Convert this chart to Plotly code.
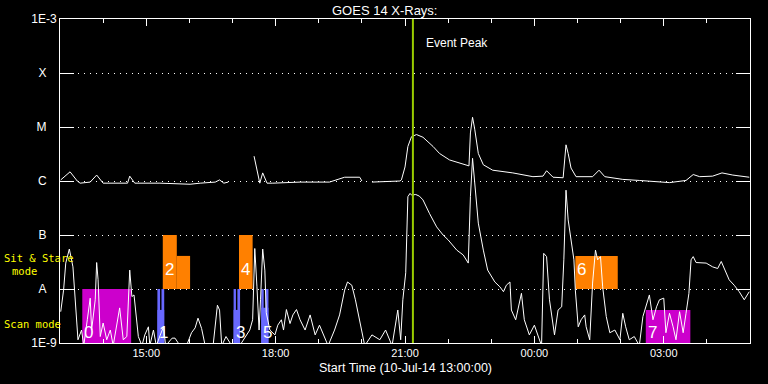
import numpy as np
import pandas as pd
import plotly.graph_objects as go

START = pd.Timestamp("2014-07-10 13:00")
END = pd.Timestamp("2014-07-11 05:00")
EVENT_PEAK = pd.Timestamp("2014-07-10 21:11")

# GOES long channel (1-8 A): minutes after start, log10 flux (None = data gap)
long_min = [1, 14, 24, 28, 42, 51, 60, 94, 97, 104,
            139, 181, 195, 216, 222, 228, 234, 250, 270, 278,
            282, 288, 296, 334, 375, 396, 417, 420, 427, 434,
            473, 475, 480, 484, 489, 496, 505, 519, 528, 542,
            556, 569, 571, 574, 577, 582, 589, 602, 630, 658,
            672, 677, 686, 700, 704, 707, 711, 718, 741, 750,
            758, 783, 806, 848, 871, 881, 890, 908, 921, 936,
            959]
long_log10 = [-5.98, -5.83, -6.00, -6.04, -6.02, -5.89, -6.04, -6.04, -5.91, -6.04,
              -6.04, -6.06, -6.04, -6.02, -5.98, -6.04, -6.02, None, -5.54, -6.04,
              -5.85, -6.04, -6.04, -6.02, -6.02, -5.93, -5.93, -6.00, None, -6.02,
              -6.00, -5.98, -5.74, -5.36, -5.18, -5.14, -5.19, -5.36, -5.49, -5.61,
              -5.67, -5.72, -5.11, -4.82, -5.04, -5.49, -5.70, -5.80, -5.85, -5.92,
              -5.91, -5.81, -5.93, -5.94, -5.33, -5.49, -5.76, -5.92, -5.92, -5.80,
              -5.92, -5.97, -5.99, -6.03, -5.99, -5.88, -5.92, -5.91, -5.85, -5.89,
              -5.93]

# GOES short channel (0.5-4 A)
short_min = [1, 5, 8, 13, 18, 21, 23, 25, 30, 33,
             38, 42, 44, 46, 49, 51, 53, 56, 60, 65,
             70, 74, 79, 83, 88, 93, 97, 100, 103, 107,
             109, 114, 118, 123, 125, 130, 134, 139, 144, 147,
             156, 160, 167, 176, 183, 188, 192, 197, 202, 213,
             219, 222, 225, 231, 239, 250, 259, 264, 268, 271,
             274, 277, 279, 282, 285, 287, 292, 299, 303, 308,
             311, 315, 320, 324, 329, 334, 341, 348, 355, 361,
             373, 382, 389, 396, 400, 406, 411, 417, 424, 434,
             445, 453, 462, 470, 474, 477, 481, 484, 487, 489,
             495, 500, 505, 514, 524, 533, 540, 552, 561, 568,
             571, 574, 577, 582, 589, 595, 605, 612, 617, 621,
             626, 628, 634, 642, 646, 653, 660, 667, 670, 673,
             677, 681, 688, 693, 698, 701, 704, 707, 711, 715,
             717, 721, 725, 730, 732, 737, 741, 745, 748, 752,
             755, 760, 765, 772, 779, 783, 787, 792, 799, 806,
             811, 820, 825, 830, 834, 840, 843, 848, 853, 857,
             862, 867, 871, 875, 878, 881, 885, 899, 908, 915,
             920, 925, 931, 938, 945, 952, 957, 959]
short_log10 = [-8.42, -8.02, -7.52, -7.26, -7.59, -8.14, -8.57, -8.94, -8.76, -9.05,
               -8.57, -8.17, -8.76, -8.48, -8.20, -7.51, -7.83, -8.88, -8.63, -8.94,
               -8.76, -9.05, -8.67, -8.35, -8.94, -8.88, -7.65, -8.14, -8.11, -8.70,
               -8.88, -9.05, -8.85, -8.70, -9.05, -8.76, -9.05, -8.87, -8.70, -9.05,
               -8.91, -8.91, -9.05, -9.05, -8.81, -8.72, -8.54, -8.73, -9.05, -9.05,
               -8.30, -8.39, -9.05, -8.88, -9.05, -9.05, -8.85, -8.76, -8.57, -7.25,
               -7.96, -8.76, -8.20, -7.26, -7.65, -8.44, -8.76, -8.85, -8.67, -8.57,
               -8.76, -8.38, -8.64, -8.48, -8.38, -8.57, -8.76, -8.48, -8.85, -8.67,
               -9.05, -8.76, -8.48, -8.02, -7.87, -7.93, -8.20, -8.57, -9.05, -8.85,
               -8.94, -8.76, -9.05, -8.39, -8.94, -8.20, -7.70, -6.29, -6.23, -6.26,
               -6.25, -6.28, -6.35, -6.60, -6.85, -7.00, -7.09, -7.28, -7.37, -7.52,
               -6.29, -5.58, -5.98, -6.78, -7.28, -7.65, -7.87, -7.96, -8.05, -7.93,
               -7.87, -8.39, -8.57, -8.08, -8.57, -8.85, -8.67, -8.91, -9.05, -7.34,
               -7.40, -8.20, -8.85, -8.39, -8.33, -7.46, -6.17, -6.72, -7.09, -7.46,
               -8.02, -8.70, -8.57, -8.48, -8.70, -8.94, -7.89, -7.28, -7.46, -7.40,
               -7.96, -8.51, -8.81, -8.76, -8.94, -8.45, -8.70, -8.94, -8.88, -9.05,
               -8.51, -8.11, -8.57, -8.33, -8.20, -8.17, -8.81, -8.45, -8.70, -8.94,
               -8.42, -8.81, -8.45, -8.08, -7.46, -7.40, -7.51, -7.52, -7.59, -7.62,
               -7.49, -7.65, -7.83, -7.93, -8.05, -8.20, -8.08, -8.05]

# Observation blocks
obs_labels = ["0", "1", "2", "3", "4", "5", "6", "7"]
obs_mode = ["scan", "scan_b", "sit", "scan_b", "sit", "scan_b", "sit", "scan"]
# Rectangle pieces of each observation: obs index, start/end minute, bottom/top flux
piece_obs = [0, 1, 1, 1, 2, 2, 3, 3, 3, 4, 5, 5, 5, 6, 7]
piece_t0 = [31, 135.5, 141.2, 135.5, 143, 162.5, 241.5, 246.8, 241.5, 249, 280, 285.8, 280, 717, 815]
piece_t1 = [99, 139.2, 145, 145, 162.5, 181, 244.8, 250.5, 250.5, 268, 283.4, 290, 290, 776, 877]
piece_bot = [1e-9, 1e-9, 1e-9, 1e-9, 1e-8, 1e-8, 1e-9, 1e-9, 1e-9, 1e-8, 1e-9, 1e-9, 1e-9, 1e-8, 1e-9]
piece_top = [1e-8, 1e-8, 1e-8, 4.1e-9, 1e-7, 4.1e-8, 1e-8, 1e-8, 4.1e-9, 1e-7, 1e-8, 1e-8, 4.5e-9, 4.1e-8, 4.1e-9]

mode_color = {"scan": "#CC00CC", "scan_b": "#6868FF", "sit": "#FF8000"}

# Y axis (GOES class levels)
y_tickvals = [1e-9, 1e-8, 1e-7, 1e-6, 1e-5, 1e-4, 1e-3]
y_ticktext = ["1E-9", "A\u00a0\u00a0\u00a0", "B\u00a0\u00a0\u00a0", "C\u00a0\u00a0\u00a0",
              "M\u00a0\u00a0\u00a0", "X\u00a0\u00a0\u00a0", "1E-3"]

FONT = "Liberation Sans"


def to_time(mins):
    return [START + pd.Timedelta(minutes=float(m)) for m in mins]


fig = go.Figure()

for i in range(len(piece_obs)):
    c = mode_color[obs_mode[piece_obs[i]]]
    xs = to_time([piece_t0[i], piece_t1[i], piece_t1[i], piece_t0[i], piece_t0[i]])
    ys = [piece_bot[i], piece_bot[i], piece_top[i], piece_top[i], piece_bot[i]]
    fig.add_trace(go.Scatter(x=xs, y=ys, mode="lines", fill="toself", fillcolor=c,
                             line=dict(width=0, color=c), hoverinfo="skip"))

short_y = 10 ** np.array(short_log10, dtype=float)
long_y = 10 ** np.array(long_log10, dtype=float)

fig.add_trace(go.Scatter(x=to_time(short_min), y=short_y, mode="lines",
                         line=dict(color="white", width=1), connectgaps=False))
fig.add_trace(go.Scatter(x=to_time(long_min), y=long_y, mode="lines",
                         line=dict(color="white", width=1), connectgaps=False))

fig.add_trace(go.Scatter(x=[EVENT_PEAK, EVENT_PEAK], y=[y_tickvals[0], y_tickvals[-1]],
                         mode="lines", line=dict(color="#99CC00", width=2), hoverinfo="skip"))

annotations = []
for k, lab in enumerate(obs_labels):
    idx = [i for i in range(len(piece_obs)) if piece_obs[i] == k]
    t0 = min(piece_t0[i] for i in idx)
    bot = min(piece_bot[i] for i in idx)
    sit = obs_mode[k] == "sit"
    annotations.append(dict(
        x=START + pd.Timedelta(minutes=float(t0)), y=np.log10(bot), xref="x", yref="y",
        text=lab, showarrow=False, xanchor="left", yanchor="bottom",
        xshift=0, yshift=8 if sit else -1,
        font=dict(family=FONT, size=17, color="white")))

annotations += [
    dict(text="GOES 14 X-Rays:", x=(384 - 60) / 690, xref="paper", y=1, yref="paper", yshift=9,
         xanchor="center", yanchor="middle", showarrow=False,
         font=dict(family=FONT, size=13, color="white")),
    dict(text="Start Time (10-Jul-14 13:00:00)", x=0.5, xref="paper", y=0, yref="paper",
         yshift=-25, xanchor="center", yanchor="middle", showarrow=False,
         font=dict(family=FONT, size=12.5, color="white")),
    dict(text="Event Peak", x=EVENT_PEAK, xref="x", y=0.926, yref="paper", xshift=11,
         xanchor="left", yanchor="middle", showarrow=False,
         font=dict(family=FONT, size=12, color="white")),
    dict(text="Sit & Stare", x=-0.0845, xref="paper", y=0.262, yref="paper",
         xanchor="left", yanchor="middle", showarrow=False,
         font=dict(family="DejaVu Sans Mono", size=10.5, color="#FFFF00")),
    dict(text="mode", x=-0.0517, xref="paper", y=0.222, yref="paper",
         xanchor="center", yanchor="middle", showarrow=False,
         font=dict(family="DejaVu Sans Mono", size=10.5, color="#FFFF00")),
    dict(text="Scan mode", x=-0.0845, xref="paper", y=0.060, yref="paper",
         xanchor="left", yanchor="middle", showarrow=False,
         font=dict(family="DejaVu Sans Mono", size=10.5, color="#FFFF00")),
]

fig.update_layout(
    width=768, height=384,
    margin=dict(l=60, r=18, t=19, b=41, autoexpand=False),
    paper_bgcolor="black", plot_bgcolor="black",
    showlegend=False,
    font=dict(family=FONT, color="white", size=11),
    annotations=annotations,
)

fig.update_xaxes(
    type="date", range=[START, END], automargin=False,
    showline=True, linecolor="white", linewidth=1, mirror="ticks",
    ticks="inside", ticklen=7, tickcolor="white", tickwidth=1,
    tick0="2014-07-10 15:00", dtick=3 * 3600 * 1000, tickformat="%H:%M",
    minor=dict(dtick=3600 * 1000, ticks="inside", ticklen=4, tickcolor="white", showgrid=False),
    showgrid=False, zeroline=False,
    tickfont=dict(family=FONT, size=11, color="white"),
)
fig.update_yaxes(
    type="log", range=[-9, -3], automargin=False,
    tickvals=y_tickvals, ticktext=y_ticktext,
    showline=True, linecolor="white", linewidth=1, mirror="ticks",
    ticks="inside", ticklen=14, tickcolor="white", tickwidth=1,
    showgrid=True, gridcolor="white", gridwidth=1, griddash="1px,5px",
    zeroline=False,
    tickfont=dict(family=FONT, size=12, color="white"),
)

fig.write_html(
    "out.html",
    config={"displayModeBar": False},
    post_script="document.body.style.margin='0';document.body.style.background='black';",
)
